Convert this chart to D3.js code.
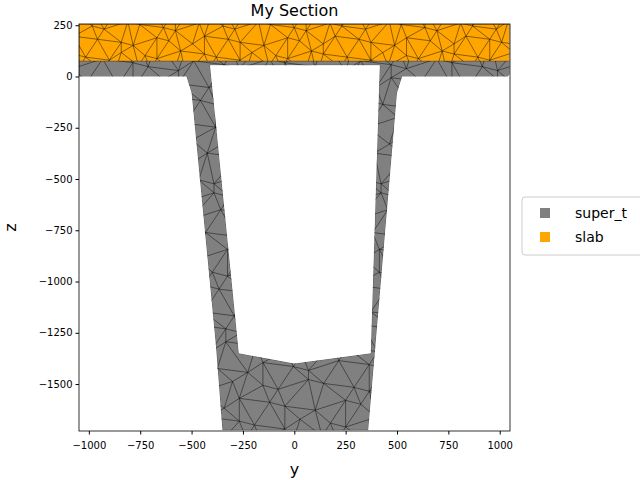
<!DOCTYPE html><html><head><script src="https://cdn.jsdelivr.net/npm/d3@7"></script>
<style>body{margin:0;background:#fff}text{font-family:"DejaVu Sans",sans-serif}</style></head><body>
<svg id="c" width="640" height="480"></svg>
<script>
const seriesNames=["super_t","slab"];
const seriesColors=["#808080","#FFA500"];
const superT=[[-1048,75],[1048,75],[1048,12],[1040,0],[525,0],[500,-80],[360,-1725],[-350,-1725],[-382,-1310],[-500,-80],[-525,0],[-1048,0]];
const superTHole=[[-410,55],[416,55],[372,-1350],[0,-1400],[-270,-1350]];
const slab=[[-1048,75],[1048,75],[1048,256],[-1048,256]];
const xTicks=[-1000,-750,-500,-250,0,250,500,750,1000];
const yTicks=[250,0,-250,-500,-750,-1000,-1250,-1500];
const L=79,R=510,T=24,B=431;
const x=d3.scaleLinear().domain([-1048,1050]).range([L,R]);
const y=d3.scaleLinear().domain([-1729,256]).range([B,T]);
const svg=d3.select("#c");
const line=d3.line().x(d=>x(d[0])).y(d=>y(d[1]));
const defs=svg.append("defs");
defs.append("clipPath").attr("id","pc").append("rect").attr("x",L).attr("y",T).attr("width",R-L).attr("height",B-T);
function shape(id,outer,hole,color,step){
  const p=line(outer)+"Z"+(hole?line(hole)+"Z":"");
  defs.append("clipPath").attr("id",id).append("path").attr("d",p).attr("clip-rule","evenodd");
  const g=svg.append("g").attr("clip-path","url(#pc)").append("g").attr("clip-path","url(#"+id+")");
  g.append("path").attr("d",p).attr("fill",color).attr("fill-rule","evenodd");
  const pts=[];
  const ys=d3.extent(outer,d=>d[1]),xs=d3.extent(outer,d=>d[0]);
  let r=0;
  for(let yy=ys[0]-step/2;yy<=ys[1]+step;yy+=step*0.8,r++){
    let c=0;
    for(let xx=xs[0]-step+(r%2?step/2:0);xx<=xs[1]+step;xx+=step,c++){
      const jx=(((r*7+c*13)%9)-4)*step/14, jy=(((r*11+c*5)%7)-3)*step/12;
      pts.push([x(xx+jx),y(yy+jy)]);}
  }
  const del=d3.Delaunay.from(pts);
  g.append("path").attr("d",del.render()).attr("fill","none").attr("stroke","#000").attr("stroke-opacity",0.75).attr("stroke-width",0.6);
  g.append("path").attr("d",p).attr("fill","none").attr("stroke","#000").attr("stroke-opacity",0.5).attr("stroke-width",0.6);
}
shape("s1",superT,superTHole,seriesColors[0],115);
shape("s2",slab,null,seriesColors[1],90);
svg.append("rect").attr("x",L).attr("y",T).attr("width",R-L).attr("height",B-T).attr("fill","none").attr("stroke","#000").attr("stroke-width",0.8);
const ax=svg.append("g").attr("transform",`translate(0,${B})`).call(d3.axisBottom(x).tickValues(xTicks).tickSize(3.5).tickFormat(d=>String(d).replace("-","\u2212")));
const ay=svg.append("g").attr("transform",`translate(${L},0)`).call(d3.axisLeft(y).tickValues(yTicks).tickSize(3.5).tickFormat(d=>String(d).replace("-","\u2212")));
[ax,ay].forEach(a=>{a.select(".domain").remove();a.selectAll("text").attr("font-size",10).attr("font-family","DejaVu Sans").attr("fill","#000");});
ax.selectAll("text").attr("dy","1.1em");
svg.append("text").attr("x",(L+R)/2).attr("y",16).attr("text-anchor","middle").attr("font-size",16).text("My Section");
svg.append("text").attr("x",(L+R)/2).attr("y",475).attr("text-anchor","middle").attr("font-size",16).text("y");
svg.append("text").attr("transform",`translate(16,${(T+B)/2}) rotate(-90)`).attr("text-anchor","middle").attr("font-size",16).text("z");
const lg=svg.append("g");
lg.append("rect").attr("x",522).attr("y",197).attr("width",125).attr("height",58).attr("rx",3).attr("fill","#fff").attr("stroke","#ccc");
seriesNames.forEach((n,i)=>{
  lg.append("rect").attr("x",540).attr("y",208+i*24).attr("width",10).attr("height",10).attr("fill",seriesColors[i]);
  lg.append("text").attr("x",575).attr("y",218+i*24).attr("font-size",14).text(n);
});
</script></body></html>
